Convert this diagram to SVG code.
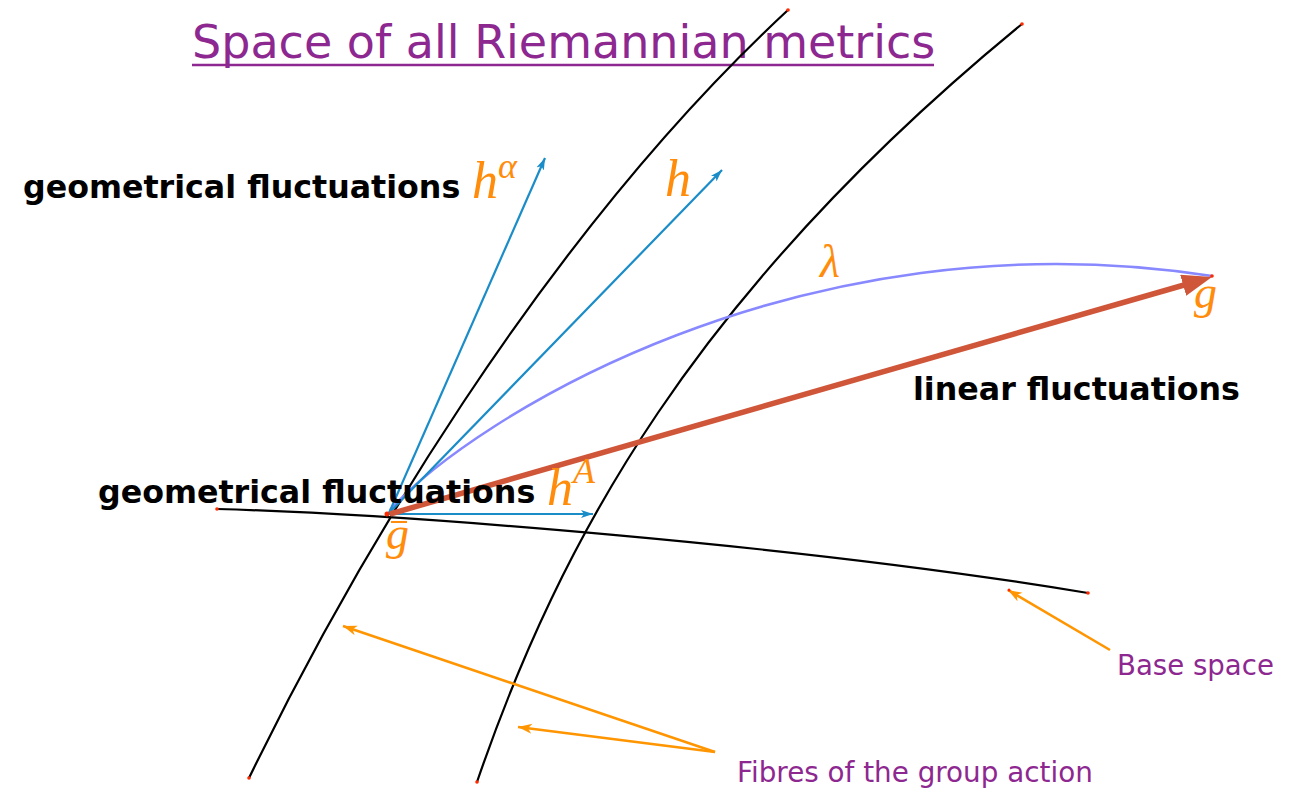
<svg xmlns="http://www.w3.org/2000/svg" width="1309" height="789" viewBox="0 0 1309 789">
<defs>
<style>
.curve{fill:none;stroke:#000;stroke-width:2.2}
.blue{fill:none;stroke:#1a8cc8;stroke-width:2.2}
.ann{fill:none;stroke:#ff9500;stroke-width:2.6}
.bold{font-family:"DejaVu Sans",Verdana,sans-serif;font-weight:bold;font-size:31.7px;fill:#000}
.purple{font-family:"DejaVu Sans",Verdana,sans-serif;fill:#8e2891}
.math{font-family:"Liberation Serif","DejaVu Serif",serif;font-style:italic;fill:#ff8c0a}
.dot{fill:#ff2a00}
</style>
<marker id="mBlue" markerUnits="userSpaceOnUse" markerWidth="14" markerHeight="10" refX="12" refY="4" orient="auto">
<path d="M0,0 L12,4 L0,8 L3,4 z" fill="#1a8cc8"/>
</marker>
<marker id="mRed" markerUnits="userSpaceOnUse" markerWidth="32" markerHeight="24" refX="10" refY="11" orient="auto">
<path d="M0,0 L30,11 L0,22 z" fill="#d0563a"/>
</marker>
<marker id="mOrange" markerUnits="userSpaceOnUse" markerWidth="16" markerHeight="12" refX="14" refY="5" orient="auto">
<path d="M0,0 L14,5 L0,10 L4,5 z" fill="#ff9500"/>
</marker>
</defs>
<rect width="1309" height="789" fill="#fff"/>

<g id="title">
<text class="purple" x="192" y="58" font-size="46">Space of all Riemannian metrics</text>
<line x1="192" y1="65" x2="934" y2="65" stroke="#8e2891" stroke-width="2.5"/>
</g>

<g id="connectors">
<path id="fibre1" class="curve" d="M249,778 C350,570 540,240 788,10"/>
<path id="fibre2" class="curve" d="M477,782 C560,540 695,292 1022,24"/>
<path id="base" class="curve" d="M217,509 C400,514 800,545 1088,593"/>
<path id="lambda" d="M390,510 C470,420 800,212 1212,276" fill="none" stroke="#8888ff" stroke-width="2.5"/>
<line class="blue" x1="389" y1="513" x2="545" y2="158" marker-end="url(#mBlue)"/>
<line class="blue" x1="389" y1="513" x2="722" y2="170" marker-end="url(#mBlue)"/>
<line class="blue" x1="389" y1="514" x2="593" y2="514" marker-end="url(#mBlue)"/>
<line x1="390" y1="514" x2="1192.8" y2="282.5" stroke="#d0563a" stroke-width="5.5" marker-end="url(#mRed)"/>
<line class="ann" x1="1110" y1="650" x2="1008" y2="590" marker-end="url(#mOrange)"/>
<line class="ann" x1="715" y1="752" x2="343" y2="626" marker-end="url(#mOrange)"/>
<line class="ann" x1="715" y1="752" x2="518" y2="727" marker-end="url(#mOrange)"/>
</g>

<g id="endpoints">
<circle class="dot" cx="249" cy="778" r="1.8"/>
<circle class="dot" cx="477" cy="782" r="1.8"/>
<circle class="dot" cx="788" cy="10" r="1.8"/>
<circle class="dot" cx="1022" cy="24" r="1.8"/>
<circle class="dot" cx="217" cy="509" r="1.8"/>
<circle class="dot" cx="1088" cy="593" r="1.8"/>
<circle class="dot" cx="1212" cy="276" r="1.8"/>
<circle class="dot" cx="387" cy="514" r="2.5"/>
<circle class="dot" cx="1009" cy="590" r="1.5"/>
</g>

<g id="labels">
<text class="bold" x="23" y="198">geometrical fluctuations</text>
<text class="bold" x="98" y="503">geometrical fluctuations</text>
<text class="bold" x="913" y="400">linear fluctuations</text>
<text class="purple" x="1117" y="675" font-size="27.6">Base space</text>
<text class="purple" x="737" y="782" font-size="27.8">Fibres of the group action</text>
</g>

<g id="math">
<text class="math" x="472" y="198" font-size="52">h<tspan font-size="36" dy="-20">α</tspan></text>
<text class="math" x="665" y="196" font-size="52">h</text>
<text class="math" x="820" y="277" font-size="46">λ</text>
<text class="math" x="547" y="505" font-size="52">h<tspan font-size="36" dy="-22">A</tspan></text>
<text class="math" x="386" y="549" font-size="46">g</text>
<line x1="391" y1="522" x2="407" y2="522" stroke="#ff8c0a" stroke-width="2"/>
<text class="math" x="1194" y="308" font-size="46">g</text>
</g>
</svg>
